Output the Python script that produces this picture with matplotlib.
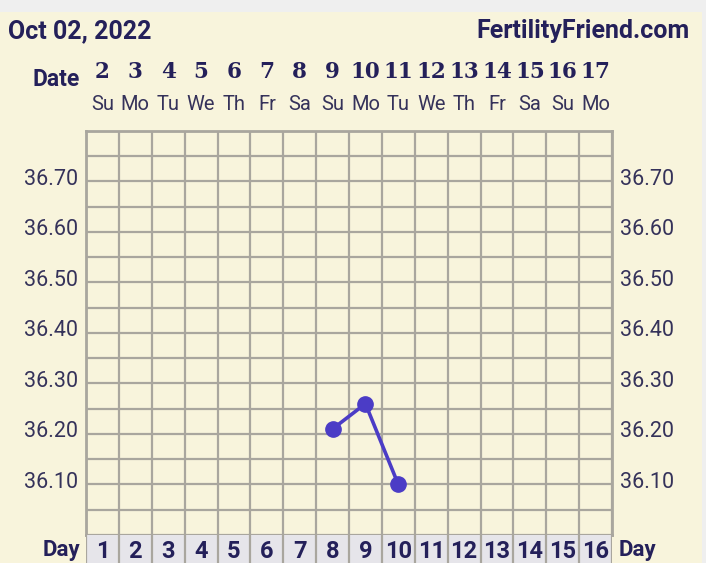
import matplotlib
matplotlib.use('Agg')
import matplotlib.pyplot as plt
from matplotlib.patches import Rectangle

# chart data
dates = [2, 3, 4, 5, 6, 7, 8, 9, 10, 11, 12, 13, 14, 15, 16, 17]
weekdays = ['Su', 'Mo', 'Tu', 'We', 'Th', 'Fr', 'Sa', 'Su', 'Mo', 'Tu', 'We', 'Th', 'Fr', 'Sa', 'Su', 'Mo']
cycle_days = list(range(1, 17))
temp_days = [8, 9, 10]
temps = [36.21, 36.26, 36.10]
temp_ticks = [36.10, 36.20, 36.30, 36.40, 36.50, 36.60, 36.70]

W, H = 706, 563
navy = '#24205a'
label_col = '#35325a'
grid_col = '#a9a69e'
cream = '#f8f4dc'

fig = plt.figure(figsize=(W / 100, H / 100), dpi=100)
fig.patch.set_facecolor(cream)
# light gray band at top and right edge
fig.add_artist(Rectangle((0, 1 - 12 / H), 1, 12 / H, transform=fig.transFigure,
                         facecolor='#efefef', edgecolor='none'))
fig.add_artist(Rectangle((702 / W, 0), 4 / W, 1, transform=fig.transFigure,
                         facecolor='#efefef', edgecolor='none'))

def px(x, y):
    return x / W, 1 - y / H

x0, x1 = 86, 612
y_top, y_bot = 131, 535

ax = fig.add_axes([x0 / W, 1 - y_bot / H, (x1 - x0) / W, (y_bot - y_top) / H])
ax.set_facecolor(cream)
ax.set_xlim(0.5, 16.5)
ax.set_ylim(36.0, 36.8)
for i in range(17):
    ax.axvline(0.5 + i, color=grid_col, lw=1.6, zorder=1)
for k in range(17):
    ax.axhline(36.0 + 0.05 * k, color=grid_col, lw=1.6, zorder=1)
for s in ax.spines.values():
    s.set_color(grid_col)
    s.set_linewidth(2)
ax.set_xticks([])
ax.set_yticks([])

ax.plot(temp_days, temps, color='#4b3cc6', lw=2.6, marker='o', ms=11,
        markerfacecolor='#4b3cc6', markeredgecolor='#4b3cc6', zorder=3)

# y labels on both sides
for t in temp_ticks:
    ax.text(-0.015, t + 0.004, f'{t:.2f}', ha='right', va='center', fontsize=15.5,
            family='Roboto', color=label_col, transform=ax.get_yaxis_transform(), clip_on=False)
    ax.text(1.015, t + 0.004, f'{t:.2f}', ha='left', va='center', fontsize=15.5,
            family='Roboto', color=label_col, transform=ax.get_yaxis_transform(), clip_on=False)

# day row
axd = fig.add_axes([x0 / W, -4 / H, (x1 - x0) / W, (H - y_bot + 4) / H])
axd.set_facecolor('#e6e5ea')
axd.set_xlim(0.5, 16.5)
axd.set_ylim(0, 1)
for i in range(17):
    axd.axvline(0.5 + i, color=grid_col, lw=1.6)
for s in axd.spines.values():
    s.set_visible(False)
axd.set_xticks([])
axd.set_yticks([])
for d in cycle_days:
    axd.text(d, 0.5, str(d), ha='center', va='center', fontsize=17,
             fontweight='bold', family='Roboto', color=navy)

# header
fig.text(*px(8, 31), 'Oct 02, 2022', ha='left', va='center', fontsize=18,
         fontweight='bold', family='Roboto', color=navy)
fig.text(*px(690, 31), 'FertilityFriend.com', ha='right', va='center', fontsize=18,
         fontweight='bold', family='Roboto', color=navy)
fig.text(*px(80, 80), 'Date', ha='right', va='center', fontsize=16.5,
         fontweight='bold', family='Roboto', color=navy)
fig.text(*px(80, 550), 'Day', ha='right', va='center', fontsize=16,
         fontweight='bold', family='Roboto', color=navy)
fig.text(*px(619, 550), 'Day', ha='left', va='center', fontsize=16,
         fontweight='bold', family='Roboto', color=navy)

col_w = (x1 - x0) / 16
for i, (d, wd) in enumerate(zip(dates, weekdays)):
    cx = x0 + col_w * (i + 0.5)
    fig.text(*px(cx, 72), str(d), ha='center', va='center', fontsize=15.5,
             fontweight='bold', family='DejaVu Serif', color=navy)
    fig.text(*px(cx, 104), wd, ha='center', va='center', fontsize=14.5,
             family='Roboto', color=label_col)

fig.savefig('out.png', dpi=100, facecolor=fig.get_facecolor())
